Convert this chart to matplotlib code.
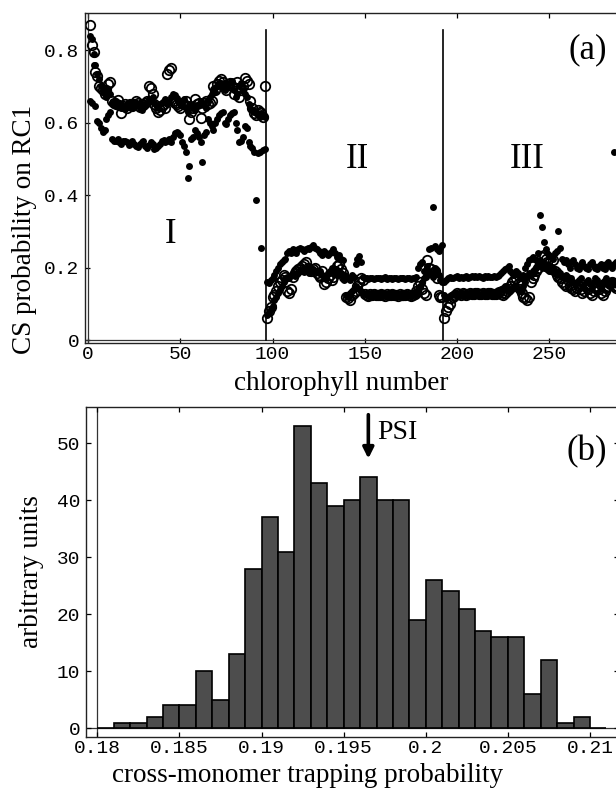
import numpy as np
import matplotlib
matplotlib.use("Agg")
import matplotlib.pyplot as plt

# ---- panel (a): CS probability on RC1 per chlorophyll (values x1000) ----
chl = np.arange(1, 289)

open_pts = [
    # region I
    870, 815, 795, 740, 728, 700, 695, 690, 680, 690, 705, 712,
    660, 655, 650, 662, 648, 625, 645, 650, 640, 648, 652, 645,
    650, 660, 655, 642, 650, 648, 655, 660, 700, 695, 680, 650,
    640, 628, 635, 645, 650, 640, 735, 745, 750, 660, 655, 650,
    645, 640, 655, 650, 660, 645, 610, 630, 640, 665, 650, 655,
    612, 640, 655, 660, 650, 655, 660, 700, 690, 705, 715, 720,
    712, 700, 690, 705, 710, 700, 680, 695, 712, 670, 690, 700,
    722, 715, 705, 660, 640, 625, 620, 635, 630, 625, 615, 700,
    # region II
    60, 80, 90, 120, 125, 135, 150, 160, 165, 180, 175, 135,
    130, 140, 175, 185, 190, 195, 200, 205, 210, 215, 200, 195,
    190, 195, 200, 185, 180, 175, 190, 155, 160, 170, 180, 165,
    175, 190, 205, 210, 195, 185, 175, 120, 115, 110, 125, 130,
    135, 150, 160, 170, 165, 128, 125, 122, 126, 124, 127, 125,
    123, 125, 128, 124, 122, 126, 125, 123, 127, 124, 125, 122,
    126, 124, 123, 125, 127, 124, 122, 125, 128, 135, 150, 160,
    140, 130, 125, 220, 200, 195, 185, 190, 170, 125, 120, 120,
    # region III
    60, 80, 90, 100, 115, 120, 125, 130, 128, 125, 130, 127,
    125, 128, 130, 127, 126, 129, 131, 128, 127, 130, 128, 126,
    129, 130, 127, 128, 126, 130, 132, 128, 125, 130, 135, 140,
    150, 160, 165, 170, 155, 140, 130, 120, 115, 110, 120, 160,
    170, 180, 190, 200, 210, 230, 235, 225, 215, 200, 195, 220,
    190, 180, 175, 170, 160, 155, 150, 165, 150, 145, 140, 135,
    145, 150, 140, 130, 135, 150, 140, 130, 125, 135, 145, 150,
    140, 130, 125, 135, 145, 150, 155, 160, 150, 145, 150, 155,
]

filled_hi = [
    840, 830, 790, 760, 735, 720, 700, 690, 680, 670, 690, 680,
    655, 650, 660, 645, 650, 640, 645, 638, 642, 650, 645, 640,
    648, 655, 650, 640, 635, 645, 650, 655, 665, 660, 670, 655,
    648, 640, 650, 655, 660, 665, 650, 658, 670, 680, 675, 668,
    660, 655, 650, 665, 640, 630, 645, 650, 640, 635, 648, 652,
    660, 655, 650, 640, 662, 670, 680, 690, 685, 700, 705, 710,
    700, 690, 695, 705, 710, 715, 690, 670, 680, 700, 710, 690,
    680, 670, 650, 640, 635, 630, 625, 620, 615, 625, 618, 615,
    160, 158, 165, 170, 180, 190, 200, 210, 215, 220, 225, 240,
    245, 240, 250, 245, 240, 250, 255, 250, 245, 250, 255, 250,
    258, 262, 255, 250, 245, 240, 235, 245, 240, 235, 240, 245,
    250, 240, 230, 235, 225, 220, 180, 175, 170, 165, 180, 175,
    210, 225, 232, 215, 175, 172, 170, 168, 172, 170, 168, 171,
    170, 172, 168, 170, 173, 169, 171, 170, 168, 172, 170, 169,
    171, 170, 172, 168, 170, 171, 169, 172, 170, 175, 200, 210,
    215, 190, 180, 205, 250, 255, 368, 260, 250, 245, 255, 262,
    160, 165, 170, 175, 172, 170, 175, 178, 172, 175, 170, 174,
    176, 172, 175, 178, 174, 176, 173, 177, 175, 172, 176, 174,
    178, 175, 173, 177, 174, 176, 180, 185, 190, 195, 200, 205,
    190, 185, 180, 190, 185, 170, 175, 180, 200, 210, 220, 225,
    230, 225, 220, 240, 345, 312, 270, 250, 240, 235, 230, 225,
    240, 245, 302, 255, 225, 215, 220, 210, 200, 215, 220, 210,
    200, 195, 210, 215, 205, 200, 195, 210, 215, 205, 200, 195,
    205, 210, 200, 195, 210, 215, 205, 200, 210, 215, 210, 205,
]

filled_lo = [
    660, 655, 760, 645, 605, 600, 585, 575, 580, 610, 620, 630,
    555, 550, 548, 555, 545, 540, 550, 548, 545, 538, 542, 548,
    540, 535, 532, 540, 545, 550, 535, 530, 538, 545, 540, 528,
    530, 535, 540, 548, 552, 545, 550, 555, 545, 560, 570, 575,
    572, 565, 545, 535, 520, 447, 480, 555, 560, 580, 570, 560,
    545, 490, 565, 575, 610, 600, 590, 580, 600, 610, 620, 625,
    630, 600, 595, 610, 620, 625, 630, 600, 580, 547, 550, 560,
    590, 585, 545, 535, 530, 520, 386, 515, 520, 254, 525, 527,
    70, 75, 85, 95, 110, 120, 130, 140, 150, 160, 170, 175,
    170, 180, 185, 178, 182, 185, 190, 192, 188, 195, 190, 185,
    192, 195, 190, 188, 185, 190, 180, 175, 170, 185, 190, 200,
    195, 185, 180, 190, 185, 175, 165, 125, 120, 130, 135, 140,
    150, 145, 140, 135, 130, 127, 125, 128, 124, 126, 125, 123,
    126, 124, 125, 127, 123, 125, 126, 124, 125, 127, 123, 125,
    124, 126, 125, 123, 127, 124, 125, 126, 124, 130, 140, 150,
    160, 170, 175, 180, 190, 185, 175, 200, 190, 180, 165, 160,
    125, 120, 118, 122, 125, 127, 124, 126, 128, 125, 123, 127,
    126, 124, 128, 125, 127, 123, 126, 128, 124, 126, 125, 127,
    123, 126, 128, 125, 127, 124, 126, 140, 145, 150, 145, 140,
    135, 140, 145, 150, 140, 135, 140, 150, 160, 175, 185, 180,
    190, 185, 200, 210, 220, 205, 200, 210, 195, 190, 200, 195,
    185, 180, 190, 185, 175, 170, 180, 175, 165, 170, 160, 155,
    160, 165, 170, 150, 145, 160, 165, 155, 150, 160, 170, 165,
    155, 150, 160, 165, 170, 155, 160, 165, 520, 160, 155, 165,
]

borders = [96.5, 192.5]
regions = ["I", "II", "III"]
region_pos = [(45, 0.29), (146, 0.497), (238, 0.497)]

# ---- panel (b): histogram of cross-monomer trapping probability ----
bin_left = np.round(np.arange(0.180, 0.2105, 0.001), 3)
counts = [0, 1, 1, 2, 4, 4, 10, 5, 13, 28, 37, 31, 53, 43, 39, 40,
          44, 40, 40, 19, 26, 24, 21, 17, 16, 16, 6, 12, 1, 2, 0]
psi_value = 0.1965

mono = "Liberation Mono"
serif = "Liberation Serif"
tick_fs = 14
lab_fs = 19.5

fig = plt.figure(figsize=(6.16, 7.89), dpi=100)

# panel (a)
ax1 = fig.add_axes([0.138, 0.5653, 0.877, 0.4186])
ax1.axvline(0, color="#333", lw=0.9)
ax1.axhline(0, color="#333", lw=0.9)
for b in borders:
    ax1.plot([b, b], [0, 0.855], color="black", lw=1.2)
ax1.plot(chl, np.array(filled_hi) / 1000, "o", ms=5.0, color="black", mew=0)
ax1.plot(chl, np.array(filled_lo) / 1000, "o", ms=5.0, color="black", mew=0)
ax1.plot(chl, np.array(open_pts) / 1000, "o", ms=6.8, mfc="none", mec="black", mew=1.3)
for name, (x, y) in zip(regions, region_pos):
    ax1.text(x, y, name, fontsize=25, family=serif, ha="center", va="center")
ax1.text(271, 0.8, "(a)", fontsize=25, family=serif, ha="center", va="center")
ax1.set_xlim(-1.63, 291.2)
ax1.set_ylim(-0.008, 0.903)
ax1.set_xticks([0, 50, 100, 150, 200, 250])
ax1.set_yticks([0, 0.2, 0.4, 0.6, 0.8])
ax1.set_yticklabels(["0", "0.2", "0.4", "0.6", "0.8"])
ax1.set_xlabel("chlorophyll number", fontsize=lab_fs, family=serif)
ax1.set_ylabel("CS probability on RC1", fontsize=lab_fs, family=serif)
ax1.xaxis.set_label_coords(0.474, -0.085)
ax1.yaxis.set_label_coords(-0.089, 0.345)

# panel (b)
ax2 = fig.add_axes([0.1396, 0.0663, 0.8653, 0.4175])
ax2.bar(bin_left, counts, width=0.001, align="edge", color="#4d4d4d",
        edgecolor="black", lw=1.2, zorder=2)
ax2.axhline(0, color="#333", lw=0.9, zorder=1)
ax2.axvline(0.18, color="#333", lw=0.9, zorder=1)
ax2.annotate("", xy=(psi_value, 47.3), xytext=(psi_value, 55.0),
             arrowprops=dict(arrowstyle="-|>", lw=2.6, color="black",
                             mutation_scale=16, shrinkA=0, shrinkB=0))
ax2.text(0.19703, 51.8, "PSI", fontsize=20, family=serif, ha="left", va="center")
ax2.text(0.20982, 48.5, "(b)", fontsize=25, family=serif, ha="center", va="center")
ax2.set_xlim(0.179306, 0.211766)
ax2.set_ylim(-1.47, 56.3)
xt = [0.18, 0.185, 0.19, 0.195, 0.2, 0.205, 0.21]
ax2.set_xticks(xt)
ax2.set_xticklabels(["0.18", "0.185", "0.19", "0.195", "0.2", "0.205", "0.21"])
ax2.set_yticks([0, 10, 20, 30, 40, 50])
ax2.set_xlabel("cross-monomer trapping probability", fontsize=lab_fs, family=serif)
ax2.set_ylabel("arbitrary units", fontsize=lab_fs, family=serif)
ax2.xaxis.set_label_coords(0.4156, -0.08)
ax2.yaxis.set_label_coords(-0.079, 0.5)

for ax in (ax1, ax2):
    for s in ax.spines.values():
        s.set_color("#222")
        s.set_linewidth(1.0)
    ax.tick_params(direction="in", length=3.5, width=0.9, top=True, right=True,
                   labelsize=tick_fs)
    ax.tick_params(axis="y", pad=4.0)
    ax.tick_params(axis="x", pad=2.5)
    for lab in ax.get_xticklabels() + ax.get_yticklabels():
        lab.set_family(mono)

fig.savefig("out.png", dpi=100)
